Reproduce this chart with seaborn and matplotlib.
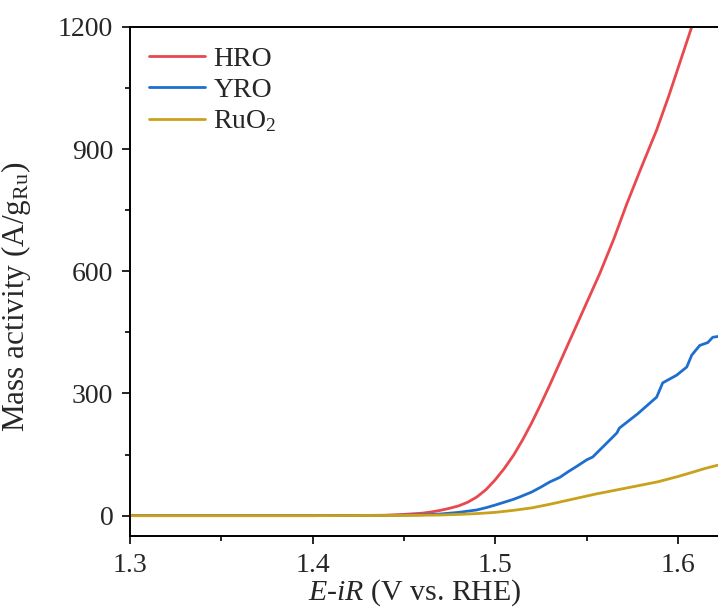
import pandas as pd
import matplotlib
matplotlib.use("Agg")
import matplotlib.pyplot as plt
import seaborn as sns
from matplotlib.ticker import MultipleLocator

# potential (V vs. RHE) and mass activity (A/g_Ru)
hro_x = [1.30, 1.36, 1.40, 1.43, 1.44, 1.45, 1.46, 1.465, 1.47, 1.475, 1.48, 1.485,
         1.49, 1.495, 1.50, 1.505, 1.51, 1.515, 1.52, 1.525, 1.53, 1.535, 1.54,
         1.545, 1.55, 1.5573, 1.565, 1.572, 1.58, 1.5884, 1.595, 1.601, 1.6076]
hro_y = [0, 0, 0, 0.5, 1, 3, 6, 9, 13, 18, 24, 33,
         46, 64, 88, 116, 148, 186, 228, 274, 322, 372, 422,
         472, 522, 595, 680, 765, 855, 947, 1030, 1111, 1200]

yro_x = [1.30, 1.36, 1.40, 1.44, 1.45, 1.46, 1.47, 1.48, 1.49, 1.4954, 1.50, 1.505,
         1.51, 1.5135, 1.52, 1.525, 1.53, 1.5354, 1.54, 1.545, 1.5501, 1.5534,
         1.5644, 1.5666, 1.568, 1.578, 1.5884, 1.5917, 1.5994, 1.6049, 1.6076,
         1.612, 1.6164, 1.6191, 1.622]
yro_y = [0, 0, 0, 0.5, 1, 2, 4, 8, 14, 20, 26, 33,
         40, 46, 58, 70, 83, 94, 108, 122, 137, 144,
         193, 203, 215, 250, 291, 326, 345, 365, 394,
         418, 425, 438, 440]

ruo2_x = [1.30, 1.36, 1.40, 1.45, 1.47, 1.48, 1.49, 1.50, 1.51, 1.52, 1.53, 1.539,
          1.555, 1.571, 1.589, 1.60, 1.6076, 1.615, 1.622]
ruo2_y = [0, 0, 0, 0.5, 1.5, 3, 5, 8, 13, 19, 28, 37,
          53, 67, 83, 96, 106, 116, 124]

labels = ["HRO", "YRO", "RuO$_2$"]
colors = ["#E8484E", "#1E6ECF", "#C9A11B"]

df = pd.concat([
    pd.DataFrame({"E": hro_x, "j": hro_y, "sample": labels[0]}),
    pd.DataFrame({"E": yro_x, "j": yro_y, "sample": labels[1]}),
    pd.DataFrame({"E": ruo2_x, "j": ruo2_y, "sample": labels[2]}),
])

sns.set_theme(style="ticks")
plt.rcParams["font.family"] = ["Liberation Serif", "DejaVu Serif"]
plt.rcParams["mathtext.fontset"] = "custom"
plt.rcParams["mathtext.rm"] = "Liberation Serif"
plt.rcParams["mathtext.it"] = "Liberation Serif:italic"

fig = plt.figure(figsize=(7.18, 6.12), dpi=100)
ax = fig.add_axes([0.181, 0.1242, 0.819, 0.8317])

sns.lineplot(data=df, x="E", y="j", hue="sample", palette=colors,
             hue_order=labels, sort=False, linewidth=2.0, ax=ax)

ax.set_xlim(1.3, 1.622)
ax.set_ylim(-50, 1200)
ax.xaxis.set_minor_locator(MultipleLocator(0.05))
ax.yaxis.set_major_locator(MultipleLocator(300))
ax.yaxis.set_minor_locator(MultipleLocator(150))
ax.set_xticks([1.3, 1.4, 1.5, 1.6])
ax.set_xticklabels(["1.3", "1.4", "1.5", "1.6"])

ax.tick_params(which="major", direction="out", length=6, width=1.4, labelsize=20, pad=6)
ax.tick_params(which="minor", direction="out", length=3.5, width=1.4)
for side in ["left", "bottom", "top"]:
    ax.spines[side].set_linewidth(1.4)
    ax.spines[side].set_color("black")
ax.spines["right"].set_visible(False)

ax.set_xlabel("$E$-$iR$ (V vs. RHE)", fontsize=21.5)
ax.set_ylabel("Mass activity (A/g$_{\\mathrm{Ru}}$)", fontsize=22.5)
ax.xaxis.set_label_coords(0.485, -0.082)
ax.yaxis.set_label_coords(-0.165, 0.47)

leg = ax.legend(loc="upper left", bbox_to_anchor=(0.0, 1.0), frameon=False,
                fontsize=20, handlelength=2.0, handletextpad=0.3,
                labelspacing=0.2, borderaxespad=0.3)
for line in leg.get_lines():
    line.set_linewidth(2.0)

fig.savefig("out.png", dpi=100)
